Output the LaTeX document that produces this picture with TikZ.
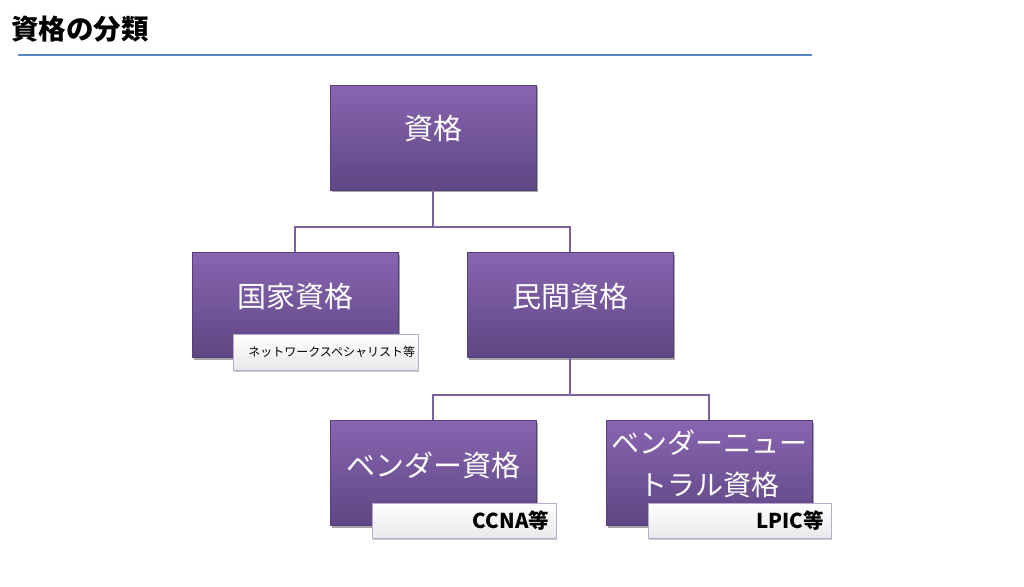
\documentclass[tikz,border=0pt]{standalone}
\usepackage{fontspec}
\setmainfont{Noto Sans CJK JP}
\usetikzlibrary{shadows}
\definecolor{boxtop}{HTML}{8865B0}
\definecolor{boxbot}{HTML}{5F4684}
\definecolor{linkc}{HTML}{7B629F}
\definecolor{rulec}{HTML}{5B87C5}
\definecolor{tagborder}{HTML}{B9AACD}
\begin{document}
\begin{tikzpicture}[x=1pt,y=-1pt,
  catbox/.style={rectangle, minimum width=206pt, minimum height=105pt, inner sep=0pt,
    top color=boxtop, bottom color=boxbot, draw=boxbot!90!black, line width=0.4pt,
    drop shadow={shadow xshift=1.5pt, shadow yshift=-2pt, fill=black, opacity=0.35}},
  cattext/.style={text=white, font=\fontsize{29}{35}\selectfont, align=center, inner sep=0pt},
  tagbox/.style={rectangle, inner sep=0pt, top color=white, bottom color=black!9,
    draw=tagborder, line width=0.6pt,
    drop shadow={shadow xshift=1pt, shadow yshift=-1.5pt, fill=black, opacity=0.2}},
  tagtext/.style={anchor=east, inner sep=0pt, text=black},
  link/.style={draw=linkc, line width=2pt}]
\useasboundingbox (0,0) rectangle (1024,586);
% title
\node[anchor=west, inner sep=0pt, font=\fontsize{27.5}{32}\selectfont\bfseries] (title) at (11,29) {資格の分類};
\coordinate (ruleL) at (18,55);
\coordinate (ruleR) at (812,55);
\draw[rulec, line width=1.6pt] (ruleL) -- (ruleR);
% boxes
\node[catbox] (top) at (433,137.5) {};
\node[catbox] (kokka) at (295,305) {};
\node[catbox] (minkan) at (570,305) {};
\node[catbox] (vendor) at (433,473) {};
\node[catbox] (neutral) at (709,473) {};
% connectors
\coordinate (j1) at (433,227);
\coordinate (j2) at (570,395);
\draw[link] (top.south) -- (j1) -| (kokka.north);
\draw[link] (j1) -| (minkan.north);
\draw[link] (minkan.south) -- (j2) -| (vendor.north);
\draw[link] (j2) -| (neutral.north);
% texts in boxes
\node[cattext] (toptext) at (433,129) {資格};
\node[cattext] (kokkatext) at (295,297) {国家資格};
\node[cattext] (minkantext) at (570,297) {民間資格};
\node[cattext] (vendortext) at (433,465) {ベンダー資格};
\node[cattext, font=\fontsize{28}{36}\selectfont, text width=212pt] (neutraltext) at (709,464) {ベンダーニュー\\[6pt]トラル資格};
% tags
\node[tagbox, minimum width=185pt, minimum height=36pt] (tag1) at (325.5,352) {};
\node[tagtext, font=\fontsize{12}{14}\selectfont] (tag1text) at ([xshift=-3pt]tag1.east) {ネットワークスペシャリスト等};
\node[tagbox, minimum width=184pt, minimum height=35pt] (tag2) at (464,521) {};
\node[tagtext, font=\fontsize{20.5}{23}\selectfont\bfseries] (tag2text) at ([xshift=-7pt]tag2.east) {CCNA等};
\node[tagbox, minimum width=183pt, minimum height=35pt] (tag3) at (739.5,521) {};
\node[tagtext, font=\fontsize{20.5}{23}\selectfont\bfseries] (tag3text) at ([xshift=-7pt]tag3.east) {LPIC等};
\end{tikzpicture}
\end{document}
